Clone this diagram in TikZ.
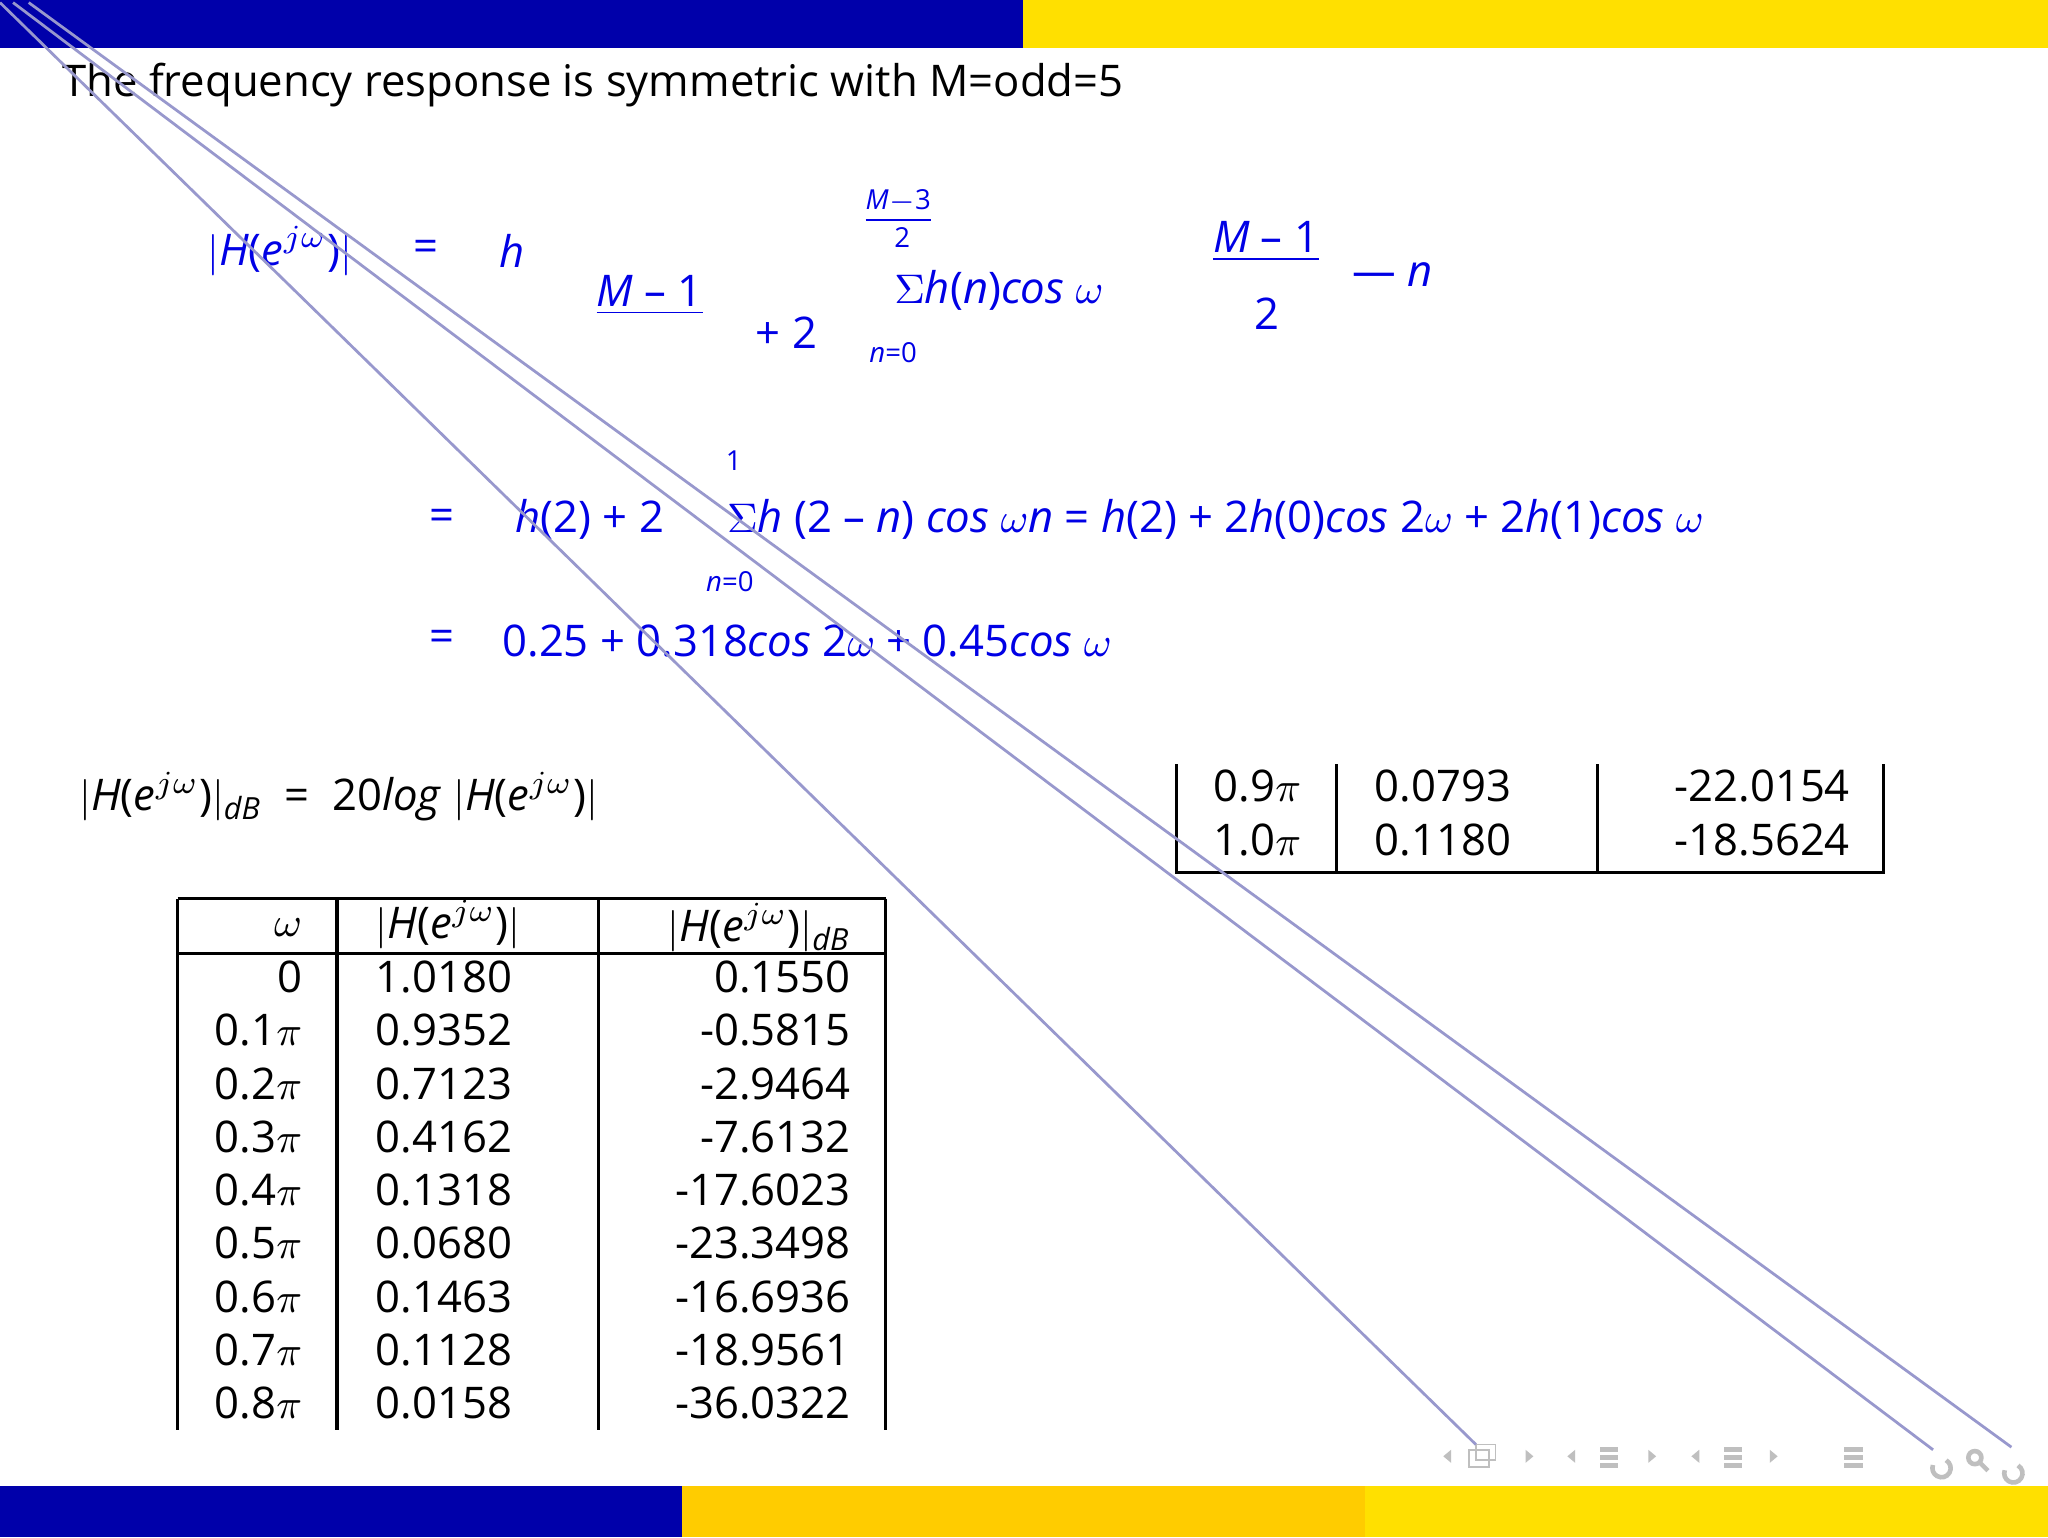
\documentclass[tikz,border=0pt]{standalone}
\usepackage{fontspec}
\setmainfont{Open Sans}
\begin{document}
\begin{tikzpicture}[x=0.01cm,y=-0.01cm,
  bl/.style={text=blue!90!black,inner sep=0pt,anchor=west},
  bk/.style={text=black,inner sep=0pt,anchor=west},
  big/.style={font=\fontsize{9.5}{11}\selectfont},
  sm/.style={font=\fontsize{6}{7}\selectfont},
  num/.style={text=black,inner sep=0pt,font=\fontsize{9.5}{11}\selectfont},
  rule/.style={line width=0.7pt}]
\useasboundingbox (0,0) rectangle (1568,1177);
\fill[white] (0,0) rectangle (1568,1177);
\definecolor{dblue}{HTML}{0000AA}\definecolor{yel}{HTML}{FFE000}\definecolor{org}{HTML}{FFCC00}
\fill[dblue] (0,0) rectangle (783,37);
\fill[yel] (783,0) rectangle (1568,37);
\fill[dblue] (0,1138) rectangle (522,1177);
\fill[org] (522,1138) rectangle (1045,1177);
\fill[yel] (1045,1138) rectangle (1568,1177);
\node[bk,big] (title) at (47,65) {The frequency response is symmetric with M=odd=5};
% equation 1
\node[bl,big] (h1) at (158,192) {$|$\textit{H}(\textit{e}$^{j\omega}$)$|$};
\node[bl,big] (eq1) at (316,192) {=};
\node[bl,big] (hh) at (382,192) {\textit{h}};
\node[bl,big] (m1) at (456,226) {\underline{\textit{M} -- 1}};
\node[bl,big] (p2) at (578,255) {+ 2};
\node[bl,sm] (up1) at (662,158) {\underline{\textit{M}$-$3}};
\node[bl,sm] (up2) at (684,182) {2};
\node[bl,big] (s1) at (684,222) {$\Sigma$\textit{h}(\textit{n})\textit{cos} $\omega$};
\node[bl,sm] (lo1) at (665,270) {\textit{n}=0};
\node[bl,big] (m2) at (928,185) {\underline{\textit{M} -- 1}};
\node[bl,big] (two) at (960,240) {2};
\node[bl,big] (mn) at (1035,210) {--- \textit{n}};
% equation 2
\node[bl,big] (eq2) at (328,398) {=};
\node[bl,sm] (up3) at (555,353) {1};
\node[bl,big] (e2) at (394,398) {\textit{h}(2) + 2};
\node[bl,big] (s2) at (556,398) {$\Sigma$\textit{h} (2 -- \textit{n}) \textit{cos} $\omega$\textit{n} = \textit{h}(2) + 2\textit{h}(0)\textit{cos} 2$\omega$ + 2\textit{h}(1)\textit{cos} $\omega$};
\node[bl,sm] (lo2) at (540,445) {\textit{n}=0};
\node[bl,big] (eq3) at (328,491) {=};
\node[bl,big] (e3) at (384,491) {0.25 + 0.318\textit{cos} 2$\omega$ + 0.45\textit{cos} $\omega$};
% dB formula
\node[bk,big] (db) at (60,610) {$|$\textit{H}(\textit{e}$^{j\omega}$)$|$\textsubscript{\textit{dB}}\ \ =\ \ 20\textit{log} $|$\textit{H}(\textit{e}$^{j\omega}$)$|$};
% left table
\draw[rule] (136,688) -- (678,688) (136,730) -- (678,730);
\draw[rule] (136,688) -- (136,1095) (258,688) -- (258,1095) (458,688) -- (458,1095) (678,688) -- (678,1095);
\node[num,anchor=east] (c0) at (232,710) {$\omega$};
\node[num,anchor=west] (c1) at (287,708) {$|$\textit{H}(\textit{e}$^{j\omega}$)$|$};
\node[num,anchor=east] (c2) at (652,710) {$|$\textit{H}(\textit{e}$^{j\omega}$)$|$\textsubscript{\textit{dB}}};
\foreach \w/\m/\d [count=\i from 0] in {0/1.0180/0.1550,0.1$\pi$/0.9352/-0.5815,0.2$\pi$/0.7123/-2.9464,0.3$\pi$/0.4162/-7.6132,0.4$\pi$/0.1318/-17.6023,0.5$\pi$/0.0680/-23.3498,0.6$\pi$/0.1463/-16.6936,0.7$\pi$/0.1128/-18.9561,0.8$\pi$/0.0158/-36.0322}{
  \node[num,anchor=east] (w\i) at (232,{748+40.8*\i}) {\w};
  \node[num,anchor=west] (m\i) at (287,{748+40.8*\i}) {\m};
  \node[num,anchor=east] (d\i) at (652,{748+40.8*\i}) {\d};
}
% right table
\draw[rule] (901,585) -- (901,668) -- (1442,668) -- (1442,585) (1023,585) -- (1023,668) (1223,585) -- (1223,668);
\node[num,anchor=east] (rw1) at (997,602) {0.9$\pi$};
\node[num,anchor=east] (rw2) at (997,643) {1.0$\pi$};
\node[num,anchor=west] (rm1) at (1052,602) {0.0793};
\node[num,anchor=west] (rm2) at (1052,643) {0.1180};
\node[num,anchor=east] (rd1) at (1417,602) {-22.0154};
\node[num,anchor=east] (rd2) at (1417,643) {-18.5624};
% nav icons (simplified)
\foreach \x in {1105,1200,1295}{\fill[gray!50] (\x,1115) -- (\x+6,1110) -- (\x+6,1120) -- cycle;}
\foreach \x in {1168,1262,1355}{\fill[gray!50] (\x,1110) -- (\x+6,1115) -- (\x,1120) -- cycle;}
\draw[gray!50] (1125,1110) rectangle (1140,1123) (1130,1106) rectangle (1145,1118);
\foreach \x in {1225,1320,1412}{\draw[gray!50,line width=1pt] (\x,1110)--(\x+14,1110) (\x,1116)--(\x+14,1116) (\x,1122)--(\x+14,1122);}
\draw[gray!50,line width=1pt] (1490,1118) arc (-60:200:7) (1512,1116) circle (5) (1516,1120)--(1522,1126) (1545,1122) arc (-60:200:7);
% diagonal lines
\coordinate (o1) at (0,2); \coordinate (o2) at (10,2); \coordinate (o3) at (22,2);
\coordinate (t1) at (1130,1106); \coordinate (t2) at (1480,1110); \coordinate (t3) at (1540,1108);
\draw[blue!35!gray!60,line width=0.6pt] (o1) -- (t1) (o2) -- (t2) (o3) -- (t3);
\end{tikzpicture}
\end{document}
